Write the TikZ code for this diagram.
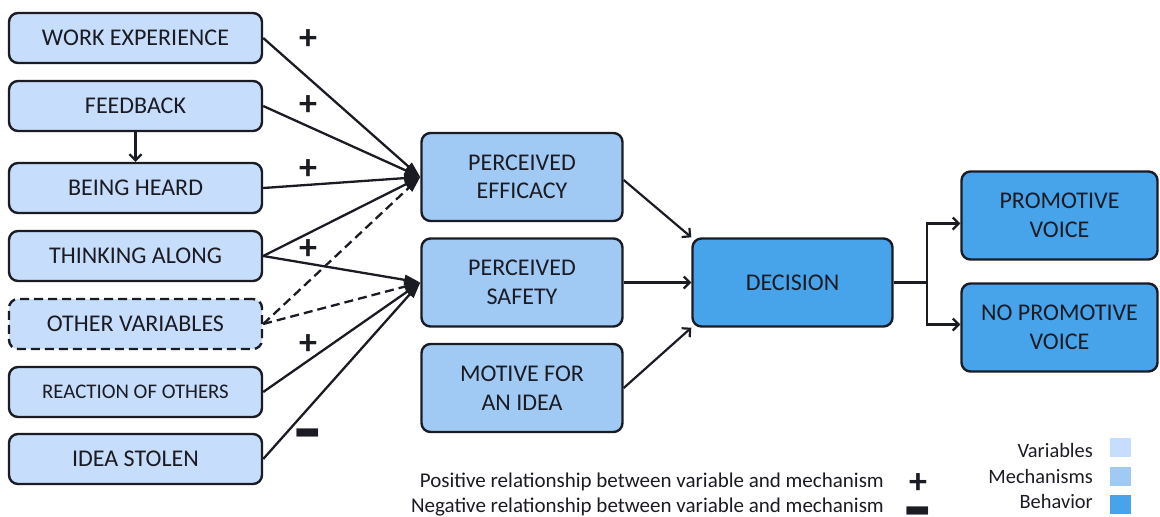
\documentclass[tikz,border=0pt]{standalone}
\usepackage{fontspec}
\setmainfont{Carlito}
\usetikzlibrary{arrows.meta}
\definecolor{varcol}{HTML}{C6DDFB}
\definecolor{mechcol}{HTML}{A0CAF4}
\definecolor{behcol}{HTML}{47A4EA}
\definecolor{ink}{HTML}{1B1B24}

% a heavy minus sign whose box has no height, centred on the node position
\newcommand{\heavyminus}{\raisebox{-27.5pt}[0pt][0pt]{\scalebox{1.7}[2.6]{–}}}

\begin{document}
\begin{tikzpicture}[x=1pt,y=-1pt,
  box/.style={draw=ink, line width=2.4pt, rounded corners=9pt, align=center,
    text=ink, inner sep=0pt, font=\fontsize{24}{28.5}\selectfont},
  varbox/.style={box, fill=varcol, minimum width=253pt, minimum height=50pt},
  mechbox/.style={box, fill=mechcol, minimum width=201pt, minimum height=88pt},
  behbox/.style={box, fill=behcol, minimum width=200pt, minimum height=88pt},
  bigarrow/.style={draw=ink, line width=2.3pt, -{Triangle[length=16pt,width=10pt]}},
  smallarrow/.style={draw=ink, line width=2.2pt, -{Straight Barb[length=6pt,width=12pt]}},
  dashedlink/.style={bigarrow, dash pattern=on 9pt off 5pt},
  sign/.style={text=ink, inner sep=0pt, font=\fontsize{36}{36}\selectfont\bfseries},
  legendtext/.style={text=ink, inner sep=0pt, anchor=east, font=\fontsize{20.4}{24}\selectfont},
  swatch/.style={minimum width=21pt, minimum height=19pt, inner sep=0pt}
]
\useasboundingbox (0,0) rectangle (1160,517);

% variables
\node[varbox] (we) at (135.5,38)  {WORK EXPERIENCE};
\node[varbox] (fb) at (135.5,106) {FEEDBACK};
\node[varbox] (bh) at (135.5,188) {BEING HEARD};
\node[varbox] (ta) at (135.5,256) {THINKING ALONG};
\node[varbox, dash pattern=on 9pt off 5pt] (ov) at (135.5,324) {OTHER VARIABLES};
\node[varbox, font=\fontsize{20.8}{24}\selectfont] (ro) at (135.5,392) {REACTION OF OTHERS};
\node[varbox] (is) at (135.5,459) {IDEA STOLEN};

% mechanisms
\node[mechbox] (pe) at (522,177)   {PERCEIVED\\EFFICACY};
\node[mechbox] (ps) at (522,282.5) {PERCEIVED\\SAFETY};
\node[mechbox] (mi) at (522,388)   {MOTIVE FOR\\AN IDEA};

% behaviour
\node[behbox] (dec) at (792.5,282.5) {DECISION};
\node[behbox, minimum width=196pt] (pv)  at (1059.5,215.5) {PROMOTIVE\\VOICE};
\node[behbox, minimum width=196pt] (npv) at (1059.5,327.5) {NO PROMOTIVE\\VOICE};

% variables -> mechanisms
\draw[smallarrow] (fb.south) -- (bh.north);
\draw[bigarrow] (we.east) -- (pe.west);
\draw[bigarrow] (fb.east) -- (pe.west);
\draw[bigarrow] (bh.east) -- (pe.west);
\draw[dashedlink] (ov.east) -- (pe.west);
\draw[dashedlink] (ov.east) -- (ps.west);
\draw[bigarrow] (ta.east) -- (pe.west);
\draw[bigarrow] (ta.east) -- (ps.west);
\draw[bigarrow] (ro.east) -- (ps.west);
\draw[bigarrow] (is.east) -- (ps.west);

% signs on the links
\node[sign] (s1) at (308,40)  {+};
\node[sign] (s2) at (308,106) {+};
\node[sign] (s3) at (308,170) {+};
\node[sign] (s4) at (308,250) {+};
\node[sign] (s5) at (308,345) {+};
\node[sign] (s6) at (308,432) {\heavyminus};

% mechanisms -> decision
\draw[smallarrow] ([yshift=-3pt]pe.east) -- (dec.north west);
\draw[smallarrow] (ps.east) -- (dec.west);
\draw[smallarrow] (mi.east) -- (dec.south west);

% decision -> behaviour
\coordinate (br) at (927,282.5);
\draw[draw=ink, line width=2.2pt] (dec.east) -- (br);
\draw[smallarrow] (br) |- ([yshift=-8pt]pv.west);
\draw[smallarrow] (br) |- ([yshift=3pt]npv.west);

% legend: relationships
\node[legendtext, font=\fontsize{21}{24}\selectfont] (lpos) at (884,482) {Positive relationship between variable and mechanism};
\node[legendtext, font=\fontsize{21}{24}\selectfont] (lneg) at (884,507) {Negative relationship between variable and mechanism};
\node[sign] (lplus) at (918,484) {+};
\node[sign] (lminus) at (918,510) {\heavyminus};

% legend: colours
\node[legendtext] (lvar)  at (1093,450) {Variables};
\node[legendtext] (lmech) at (1093,476) {Mechanisms};
\node[legendtext] (lbeh)  at (1093,501) {Behavior};
\node[swatch, fill=varcol]  (svar)  at (1120.5,447.5) {};
\node[swatch, fill=mechcol] (smech) at (1120.5,476)   {};
\node[swatch, fill=behcol]  (sbeh)  at (1120.5,504.5) {};
\end{tikzpicture}
\end{document}
